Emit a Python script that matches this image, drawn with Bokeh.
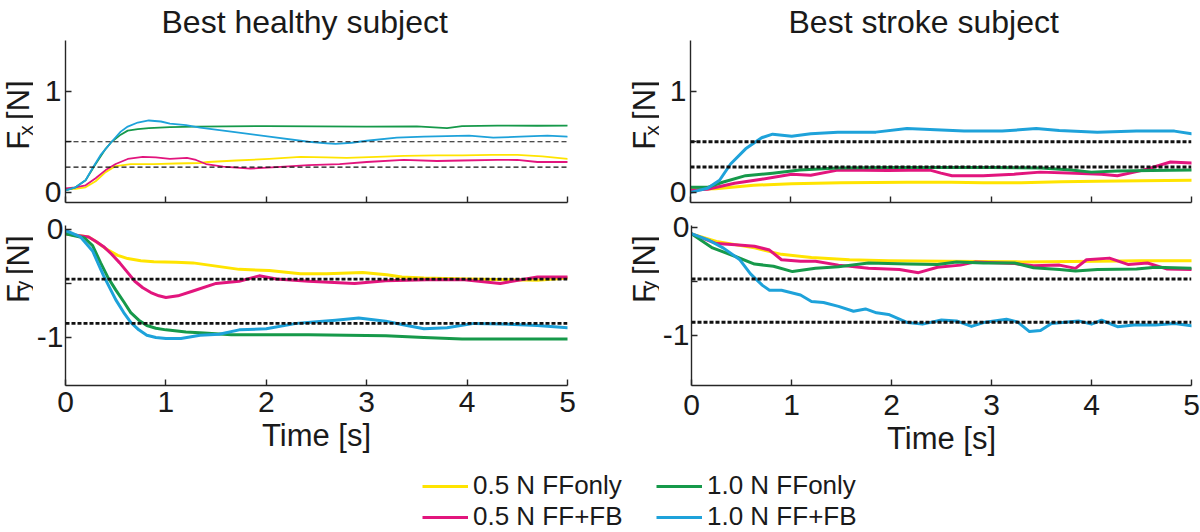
from bokeh.plotting import figure
from bokeh.models import Range1d, FixedTicker, Span, Legend, LegendItem
from bokeh.core.properties import value
from bokeh.layouts import column, row
from bokeh.embed import file_html
from bokeh.resources import INLINE

# ---------------- data ----------------
series_labels = ["0.5 N FFonly", "0.5 N FF+FB", "1.0 N FFonly", "1.0 N FF+FB"]
series_colors = ["#FFE400", "#E2157D", "#16994A", "#1EA2DA"]
titles = ["Best healthy subject", "Best stroke subject"]
x_ticks = [0, 1, 2, 3, 4, 5]
x_axis_title = "Time [s]"
y_axis_subscripts = ["x", "y"]

# targets (dashed reference lines)
fx_targets = [0.25, 0.5]
fy_targets_healthy = [-0.46, -0.87]
fy_targets_stroke = [-0.48, -0.88]

# Healthy subject, Fx
hx_y_t = [0, 0.1, 0.2, 0.3, 0.4, 0.5, 0.65, 0.88, 1.1, 1.34, 1.42, 1.7, 2.03, 2.34, 2.6, 2.8, 3.1, 3.37, 3.7, 3.95, 4.25, 4.5, 4.75, 5.0]
hx_y_v = [0.03, 0.035, 0.05, 0.11, 0.2, 0.26, 0.28, 0.28, 0.285, 0.29, 0.30, 0.315, 0.33, 0.35, 0.345, 0.34, 0.35, 0.36, 0.365, 0.365, 0.37, 0.37, 0.355, 0.33]
hx_m_t = [0, 0.1, 0.2, 0.3, 0.4, 0.5, 0.62, 0.77, 0.9, 1.04, 1.21, 1.3, 1.4, 1.57, 1.84, 2.1, 2.42, 2.73, 3.0, 3.37, 3.7, 3.95, 4.3, 4.5, 4.7, 5.0]
hx_m_v = [0.04, 0.05, 0.07, 0.14, 0.22, 0.28, 0.33, 0.35, 0.345, 0.33, 0.34, 0.32, 0.28, 0.255, 0.235, 0.25, 0.27, 0.28, 0.30, 0.32, 0.31, 0.315, 0.32, 0.32, 0.30, 0.30]
hx_g_t = [0, 0.1, 0.2, 0.3, 0.4, 0.46, 0.55, 0.62, 0.72, 0.83, 1.04, 1.3, 1.6, 2.0, 2.5, 3.0, 3.5, 3.8, 3.95, 4.3, 4.7, 5.0]
hx_g_v = [0.02, 0.05, 0.12, 0.28, 0.43, 0.5, 0.57, 0.61, 0.625, 0.635, 0.645, 0.65, 0.652, 0.655, 0.652, 0.65, 0.652, 0.635, 0.655, 0.66, 0.658, 0.66]
hx_b_t = [0, 0.1, 0.2, 0.27, 0.35, 0.46, 0.55, 0.62, 0.72, 0.83, 0.95, 1.04, 1.2, 1.34, 1.65, 2.03, 2.42, 2.6, 2.69, 2.85, 3.0, 3.3, 3.57, 4.02, 4.26, 4.53, 4.8, 5.0]
hx_b_v = [0.02, 0.05, 0.12, 0.24, 0.37, 0.5, 0.6, 0.65, 0.69, 0.71, 0.70, 0.68, 0.665, 0.64, 0.60, 0.55, 0.50, 0.485, 0.48, 0.49, 0.51, 0.54, 0.55, 0.56, 0.54, 0.55, 0.56, 0.55]

# Healthy subject, Fy
hy_y_t = [0, 0.23, 0.3, 0.42, 0.52, 0.62, 0.75, 0.88, 1.1, 1.27, 1.5, 1.73, 2.03, 2.34, 2.6, 2.96, 3.2, 3.35, 3.57, 4.0, 4.4, 4.7, 5.0]
hy_y_v = [-0.04, -0.07, -0.11, -0.19, -0.24, -0.27, -0.29, -0.30, -0.305, -0.31, -0.34, -0.37, -0.38, -0.41, -0.41, -0.40, -0.42, -0.44, -0.45, -0.46, -0.465, -0.47, -0.45]
hy_m_t = [0, 0.23, 0.3, 0.38, 0.46, 0.54, 0.62, 0.69, 0.77, 0.85, 0.93, 1.0, 1.12, 1.27, 1.5, 1.73, 1.93, 2.1, 2.42, 2.88, 3.19, 3.6, 3.95, 4.33, 4.7, 5.0]
hy_m_v = [-0.04, -0.07, -0.11, -0.16, -0.23, -0.31, -0.40, -0.48, -0.54, -0.585, -0.615, -0.63, -0.615, -0.57, -0.50, -0.48, -0.43, -0.46, -0.48, -0.50, -0.475, -0.465, -0.465, -0.50, -0.44, -0.44]
hy_g_t = [0, 0.19, 0.27, 0.35, 0.42, 0.5, 0.58, 0.65, 0.73, 0.81, 0.9, 1.0, 1.2, 1.38, 1.65, 2.03, 2.42, 2.8, 3.19, 3.57, 3.95, 4.4, 5.0]
hy_g_v = [-0.04, -0.08, -0.15, -0.31, -0.44, -0.56, -0.67, -0.77, -0.84, -0.89, -0.915, -0.93, -0.95, -0.96, -0.975, -0.975, -0.975, -0.98, -0.985, -1.0, -1.015, -1.015, -1.015]
hy_b_t = [0, 0.15, 0.27, 0.38, 0.5, 0.58, 0.65, 0.73, 0.81, 0.9, 1.0, 1.15, 1.34, 1.53, 1.73, 2.0, 2.3, 2.5, 2.69, 2.92, 3.19, 3.4, 3.57, 3.8, 4.07, 4.33, 4.7, 5.0]
hy_b_v = [-0.01, -0.07, -0.2, -0.43, -0.65, -0.77, -0.86, -0.93, -0.98, -1.0, -1.01, -1.01, -0.98, -0.97, -0.93, -0.92, -0.87, -0.855, -0.84, -0.82, -0.85, -0.89, -0.92, -0.91, -0.87, -0.875, -0.89, -0.91]

# Stroke subject, Fx
sx_y_t = [0, 0.25, 0.63, 1.01, 1.5, 2.16, 2.6, 2.92, 3.3, 3.7, 4.06, 4.5, 5.0]
sx_y_v = [0.03, 0.035, 0.07, 0.085, 0.095, 0.10, 0.10, 0.095, 0.095, 0.105, 0.11, 0.115, 0.12]
sx_m_t = [0, 0.17, 0.44, 0.71, 1.01, 1.2, 1.47, 1.97, 2.39, 2.5, 2.61, 2.92, 3.23, 3.49, 3.84, 4.1, 4.26, 4.52, 4.79, 5.0]
sx_m_v = [0.02, 0.03, 0.09, 0.13, 0.18, 0.17, 0.22, 0.215, 0.22, 0.19, 0.165, 0.165, 0.18, 0.20, 0.19, 0.18, 0.165, 0.22, 0.30, 0.29]
sx_g_t = [0, 0.17, 0.32, 0.55, 0.82, 1.09, 1.47, 2.0, 2.5, 3.0, 3.5, 3.8, 4.0, 4.26, 4.6, 5.0]
sx_g_v = [0.05, 0.05, 0.10, 0.165, 0.19, 0.22, 0.24, 0.245, 0.245, 0.245, 0.24, 0.22, 0.2, 0.21, 0.215, 0.22]
sx_b_t = [0, 0.17, 0.29, 0.4, 0.55, 0.71, 0.82, 1.01, 1.2, 1.47, 1.85, 2.16, 2.39, 2.73, 3.11, 3.45, 3.68, 4.06, 4.45, 4.83, 5.0]
sx_b_v = [0.0, 0.04, 0.12, 0.28, 0.43, 0.54, 0.575, 0.555, 0.58, 0.595, 0.595, 0.63, 0.62, 0.605, 0.605, 0.63, 0.61, 0.595, 0.605, 0.605, 0.58]

# Stroke subject, Fy
sy_y_t = [0, 0.25, 0.63, 0.9, 1.2, 1.58, 1.97, 2.54, 3.3, 4.06, 4.5, 5.0]
sy_y_v = [-0.06, -0.13, -0.19, -0.25, -0.28, -0.30, -0.31, -0.315, -0.32, -0.315, -0.31, -0.31]
sy_m_t = [0, 0.25, 0.44, 0.63, 0.78, 0.9, 1.09, 1.24, 1.47, 1.77, 2.08, 2.27, 2.46, 2.69, 2.84, 3.23, 3.42, 3.68, 3.84, 3.95, 4.18, 4.37, 4.56, 4.75, 5.0]
sy_m_v = [-0.06, -0.15, -0.16, -0.175, -0.21, -0.30, -0.315, -0.315, -0.35, -0.38, -0.39, -0.42, -0.37, -0.35, -0.32, -0.335, -0.355, -0.35, -0.38, -0.30, -0.285, -0.345, -0.33, -0.385, -0.39]
sy_g_t = [0, 0.21, 0.44, 0.63, 0.82, 1.01, 1.24, 1.47, 1.77, 2.16, 2.46, 2.65, 2.92, 3.23, 3.42, 3.68, 3.84, 4.06, 4.45, 4.64, 5.0]
sy_g_v = [-0.06, -0.19, -0.27, -0.34, -0.36, -0.41, -0.38, -0.365, -0.33, -0.34, -0.345, -0.32, -0.33, -0.33, -0.375, -0.39, -0.405, -0.39, -0.385, -0.37, -0.38]
sy_b_t = [0, 0.17, 0.32, 0.48, 0.59, 0.71, 0.78, 0.9, 1.09, 1.2, 1.32, 1.47, 1.62, 1.74, 1.85, 1.97, 2.16, 2.31, 2.5, 2.65, 2.8, 2.92, 3.15, 3.26, 3.38, 3.49, 3.6, 3.87, 4.0, 4.1, 4.26, 4.45, 4.64, 4.83, 5.0]
sy_b_v = [-0.057, -0.117, -0.192, -0.297, -0.432, -0.538, -0.583, -0.583, -0.628, -0.688, -0.697, -0.733, -0.778, -0.757, -0.793, -0.808, -0.883, -0.898, -0.859, -0.868, -0.919, -0.883, -0.853, -0.877, -0.967, -0.958, -0.892, -0.868, -0.898, -0.862, -0.922, -0.904, -0.907, -0.892, -0.913]

FONT = "Liberation Sans"
TXT = "#1a1a1a"
AX = "#262626"


def style_axis(ax):
    ax.axis_line_color = AX
    ax.axis_line_width = 1.4
    ax.major_tick_line_color = AX
    ax.major_tick_line_width = 1.4
    ax.minor_tick_line_color = AX
    ax.minor_tick_line_width = 1.4
    ax.major_tick_in = 6
    ax.major_tick_out = 0
    ax.minor_tick_in = 6
    ax.minor_tick_out = 0
    ax.major_label_text_font = FONT
    ax.major_label_text_font_size = "30px"
    ax.major_label_text_color = TXT


def make_fig(width, height, yr, mb, show_xlabels):
    p = figure(width=width, height=height, x_range=Range1d(0, 5), y_range=Range1d(*yr),
               output_backend="svg", toolbar_location=None,
               min_border_left=mb[0], min_border_right=mb[1],
               min_border_top=mb[2], min_border_bottom=mb[3])
    p.grid.visible = False
    p.outline_line_color = None
    style_axis(p.xaxis[0])
    style_axis(p.yaxis[0])
    p.yaxis.major_label_standoff = 4
    if show_xlabels:
        p.xaxis.ticker = FixedTicker(ticks=x_ticks)
        p.xaxis.axis_label = x_axis_title
        p.xaxis.axis_label_text_font = FONT
        p.xaxis.axis_label_text_font_size = "31px"
        p.xaxis.axis_label_text_font_style = "normal"
        p.xaxis.axis_label_text_color = TXT
    else:
        p.xaxis.ticker = FixedTicker(ticks=[], minor_ticks=x_ticks)
    return p


MID = 0.3465  # distance (in em) from the alphabetic baseline to the middle of the em box


def y_label_fig(width, height, sub, base_x, sub_x, y_f, y_sub, y_n):
    # a strip whose data units are its own pixels (y measured from the strip's top);
    # base_x / sub_x are the wanted baseline positions of the rotated text
    q = figure(width=width, height=height, x_range=Range1d(0, width), y_range=Range1d(height, 0),
               output_backend="svg", toolbar_location=None, min_border=0,
               x_axis_location=None, y_axis_location=None)
    q.grid.visible = False
    q.outline_line_color = None
    q.text(x=[base_x - MID * 31] * 2, y=[y_f, y_n], text=["F", "[N]"], angle=1.5707963,
           text_font=value(FONT), text_font_size="31px", text_color=TXT,
           text_align="left", text_baseline="middle")
    q.text(x=[sub_x - MID * 21], y=[y_sub], text=[sub], angle=1.5707963,
           text_font=value(FONT), text_font_size="21px", text_color=TXT,
           text_align="left", text_baseline="middle")
    return q


# ---------------- panels ----------------
lt = make_fig(595, 212, (-0.1, 1.5), (32, 61, 37, 10), False)
lb = make_fig(595, 258, (-1.445, 0.036), (32, 61, 13, 82), True)
rt = make_fig(541, 212, (-0.1, 1.5), (31, 9, 37, 10), False)
rb = make_fig(541, 258, (-1.468, 0.018), (31, 9, 8, 85), True)

lb.xaxis.major_label_standoff = 6
lb.xaxis.axis_label_standoff = 3
rb.xaxis.major_label_standoff = 9
rb.xaxis.axis_label_standoff = 3

for p in (lt, rt):
    p.yaxis.ticker = FixedTicker(ticks=[0, 1], minor_ticks=[0.5])
for p in (lb, rb):
    p.yaxis.ticker = FixedTicker(ticks=[-1, 0], minor_ticks=[-0.5])
    p.yaxis.major_label_overrides = {-1: "-1", 0: "0"}
    p.yaxis.major_label_standoff = 2

for p, txt, off in ((lt, titles[0], 96), (rt, titles[1], 98)):
    p.title.text = txt
    p.title.align = "left"
    p.title.offset = off
    p.title.standoff = 2
    p.title.text_font = FONT
    p.title.text_font_size = "32px"
    p.title.text_font_style = "normal"
    p.title.text_color = TXT

panels = [
    (lt, [(hx_y_t, hx_y_v), (hx_m_t, hx_m_v), (hx_g_t, hx_g_v), (hx_b_t, hx_b_v)], fx_targets, 1.8, 1.2, "5 3"),
    (lb, [(hy_y_t, hy_y_v), (hy_m_t, hy_m_v), (hy_g_t, hy_g_v), (hy_b_t, hy_b_v)], fy_targets_healthy, 3.0, 2.6, "4 2"),
    (rt, [(sx_y_t, sx_y_v), (sx_m_t, sx_m_v), (sx_g_t, sx_g_v), (sx_b_t, sx_b_v)], fx_targets, 3.0, 3.0, "4 2"),
    (rb, [(sy_y_t, sy_y_v), (sy_m_t, sy_m_v), (sy_g_t, sy_g_v), (sy_b_t, sy_b_v)], fy_targets_stroke, 3.0, 3.0, "4 2"),
]
for p, series, targets, lw, dlw, dash in panels:
    for (t, v), c in zip(series, series_colors):
        p.line(t, v, line_color=c, line_width=lw, line_join="round", line_cap="round")
    for tv in targets:
        p.add_layout(Span(location=tv, dimension="width", line_color="#111111",
                          line_width=dlw, line_dash=dash))

# ---------------- y-axis titles (F with subscript) ----------------
yl_lt = y_label_fig(33, 212, y_axis_subscripts[0], 29, 32, 143, 124.5, 104)
yl_lb = y_label_fig(33, 258, y_axis_subscripts[1], 29, 29.5, 337 - 212, 318 - 212, 292 - 212)
yl_rt = y_label_fig(31, 212, y_axis_subscripts[0], 27, 30, 143, 124.5, 104)
yl_rb = y_label_fig(31, 258, y_axis_subscripts[1], 27, 27.5, 337 - 212, 318 - 212, 292 - 212)

# ---------------- legend ----------------
lf = figure(width=1200, height=62, x_range=Range1d(0, 5), y_range=Range1d(10, 11),
            output_backend="svg", toolbar_location=None, min_border=0,
            x_axis_location=None, y_axis_location=None)
lf.grid.visible = False
lf.outline_line_color = None
items = []
for lab, c, (t, v) in zip(series_labels, series_colors,
                          [(hx_y_t, hx_y_v), (hx_m_t, hx_m_v), (hx_g_t, hx_g_v), (hx_b_t, hx_b_v)]):
    r = lf.line(t, v, line_color=c, line_width=3)
    items.append(LegendItem(label=lab, renderers=[r]))
legend = Legend(items=items, location=(422, 0), orientation="vertical", ncols=2,
                glyph_width=46, glyph_height=30, label_height=30, label_width=183,
                label_standoff=5, spacing=0, padding=0, margin=0,
                label_text_font=FONT, label_text_font_size="26px", label_text_color=TXT,
                border_line_color=None, background_fill_alpha=0)
lf.add_layout(legend)

layout = column(row(yl_lt, lt, yl_rt, rt), row(yl_lb, lb, yl_rb, rb), lf)
open("out.html", "w").write(file_html(layout, INLINE))
